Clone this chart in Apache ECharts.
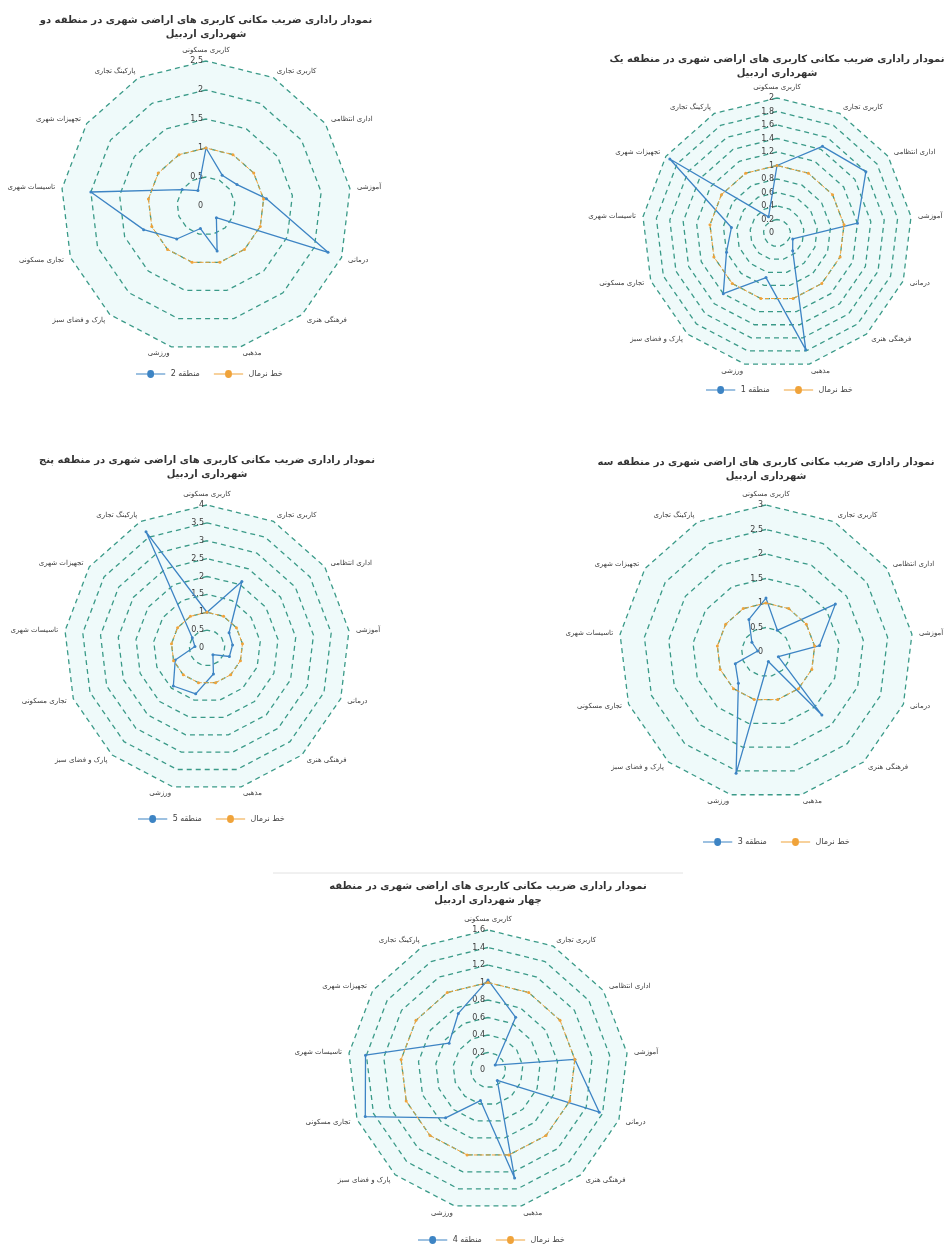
<!DOCTYPE html>
<html><head><meta charset="utf-8">
<script src="https://cdn.jsdelivr.net/npm/echarts@6/dist/echarts.min.js"></script>
<style>html,body{margin:0;padding:0;background:#fff}#c{width:951px;height:1255px}</style>
</head><body><div id="c"></div>
<script>
// ---- data ----
const categories = ['کاربری مسکونی','کاربری تجاری','اداری انتظامی','آموزشی','درمانی','فرهنگی هنری','مذهبی','ورزشی','پارک و فضای سبز','تجاری مسکونی','تاسیسات شهری','تجهیزات شهری','پارکینگ تجاری'];
const zone1 = [1.0, 1.45, 1.6, 1.2, 0.25, 0.35, 1.78, 0.68, 1.2, 0.8, 0.68, 1.93, 0.27];
const zone2 = [1.0, 0.6, 0.65, 1.05, 2.25, 0.27, 0.8, 0.4, 0.76, 1.15, 2.0, 0.5, 0.3];
const zone3 = [1.1, 0.5, 1.72, 1.1, 0.27, 1.72, 0.2, 2.55, 0.85, 0.67, 0.17, 0.35, 0.75];
const zone4 = [1.03, 0.68, 0.1, 1.0, 1.36, 0.16, 1.27, 0.36, 0.73, 1.5, 1.41, 0.54, 0.73];
const zone5 = [1.0, 2.1, 0.75, 0.72, 0.67, 0.25, 0.75, 1.32, 1.42, 0.95, 0.34, 0.5, 3.67];
const normalLine = [1,1,1,1,1,1,1,1,1,1,1,1,1];
const zoneNames = ['منطقه 1','منطقه 2','منطقه 3','منطقه 4','منطقه 5'];
const normalName = 'خط نرمال';
const axisMax = [2, 2.5, 3, 1.6, 4];
const axisStep = [0.2, 0.5, 0.5, 0.2, 0.5];
const titleLines = [
  'نمودار راداری ضریب مکانی کاربری های اراضی شهری در منطقه یک\nشهرداری اردبیل',
  'نمودار راداری ضریب مکانی کاربری های اراضی شهری در منطقه دو\nشهرداری اردبیل',
  'نمودار راداری ضریب مکانی کاربری های اراضی شهری در منطقه سه\nشهرداری اردبیل',
  'نمودار راداری ضریب مکانی کاربری های اراضی شهری در منطقه\nچهار شهرداری اردبیل',
  'نمودار راداری ضریب مکانی کاربری های اراضی شهری در منطقه پنج\nشهرداری اردبیل'
];
const zoneValues = [zone1, zone2, zone3, zone4, zone5];

// ---- layout (positions only) ----
const layout = [
  {cx: 777, cy: 233, r: 135, titleY: 52, legendY: 388, legendX: 778},
  {cx: 206, cy: 206, r: 145, titleY: 13, legendY: 372, legendX: 208},
  {cx: 766, cy: 652, r: 147, titleY: 455, legendY: 840, legendX: 775},
  {cx: 488, cy: 1070, r: 140, titleY: 879, legendY: 1238, legendX: 490},
  {cx: 207, cy: 648, r: 143, titleY: 453, legendY: 817, legendX: 210}
];

const FONT = 'DejaVu Sans';
const BLUE = '#3d84c4';
const ORANGE = '#f0a33a';
const GRID = '#3a9a88';

// ECharts radar runs counter-clockwise; reorder to clockwise like the original
const order = [0].concat(Array.from({length: categories.length - 1}, (_, i) => categories.length - 1 - i));
const reorder = arr => order.map(i => arr[i]);

const lineIcon = 'path://M0,4.4H11.5A3.5,3.5 0 0 1 18.5,4.4H30V5.6H18.5A3.5,3.5 0 0 1 11.5,5.6H0Z';

const radars = [], series = [], titles = [], legends = [];
zoneValues.forEach((vals, k) => {
  const L = layout[k];
  const names = reorder(categories);
  radars.push({
    center: [L.cx, L.cy],
    radius: L.r,
    startAngle: 90,
    shape: 'polygon',
    splitNumber: Math.round(axisMax[k] / axisStep[k]),
    nameGap: 7,
    axisName: {color: '#3a3a3a', fontSize: 7, fontFamily: FONT},
    indicator: names.map((n, i) => {
      const ind = {name: n, min: 0, max: axisMax[k]};
      if (i === 0) ind.axisLabel = {show: true};
      return ind;
    }),
    axisLabel: {show: false, color: '#404040', fontSize: 8, fontFamily: FONT, margin: 3,
      formatter: v => String(+(+v).toFixed(2))},
    axisLine: {show: false},
    axisTick: {show: false},
    splitLine: {lineStyle: {color: GRID, width: 1.3, type: [5, 4]}},
    splitArea: {show: true, areaStyle: {color: ['rgba(214,242,242,0.4)']}}
  });
  series.push({
    type: 'radar',
    radarIndex: k,
    silent: true,
    data: [
      {name: zoneNames[k], value: reorder(vals), symbol: 'circle', symbolSize: 3,
        lineStyle: {color: BLUE, width: 1.3}, itemStyle: {color: BLUE}},
      {name: normalName, value: reorder(normalLine), symbol: 'circle', symbolSize: 3,
        lineStyle: {color: ORANGE, width: 1, type: [4, 2]}, itemStyle: {color: ORANGE}}
    ]
  });
  titles.push({
    text: titleLines[k],
    left: L.cx, top: L.titleY, textAlign: 'center', padding: 0,
    textStyle: {fontFamily: FONT, fontSize: 10, fontWeight: 'bold', color: '#333', lineHeight: 14}
  });
  legends.push({
    data: [zoneNames[k], normalName],
    left: L.legendX - 72, top: L.legendY - 2, padding: 0,
    icon: lineIcon, itemWidth: 30, itemHeight: 8, itemGap: 14,
    textStyle: {fontFamily: FONT, fontSize: 8, color: '#404040'},
    selectedMode: false
  });
});

const chart = echarts.init(document.getElementById('c'), null, {renderer: 'canvas'});
chart.setOption({
  backgroundColor: '#ffffff',
  animation: false,
  title: titles,
  legend: legends,
  radar: radars,
  series: series,
  graphic: [{type: 'line', shape: {x1: 273, y1: 873, x2: 683, y2: 873}, style: {stroke: '#e2e2e2', lineWidth: 1}}]
});
</script>
</body></html>
